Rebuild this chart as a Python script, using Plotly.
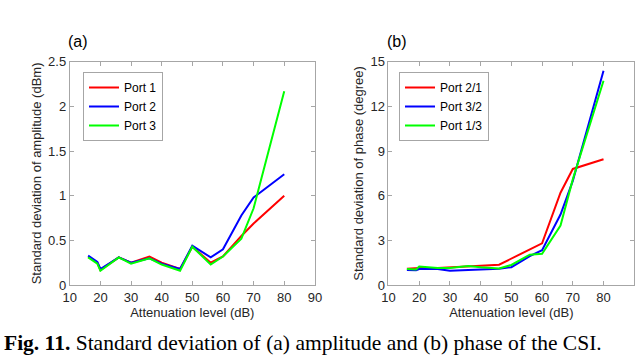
import plotly.graph_objects as go

atten = [16, 19, 20, 26, 30, 36, 40, 46, 50, 56, 60, 66, 70, 80]

amp_port1 = [0.32, 0.25, 0.17, 0.31, 0.25, 0.32, 0.25, 0.18, 0.43, 0.25, 0.32, 0.55, 0.69, 1.00]
amp_port2 = [0.33, 0.26, 0.18, 0.31, 0.25, 0.30, 0.24, 0.18, 0.44, 0.31, 0.40, 0.78, 0.98, 1.24]
amp_port3 = [0.31, 0.24, 0.16, 0.31, 0.24, 0.30, 0.23, 0.16, 0.43, 0.23, 0.32, 0.52, 0.86, 2.17]

ph_21 = [1.10, 1.15, 1.15, 1.15, 1.20, 1.30, 1.30, 1.37, 1.78, 2.39, 2.80, 6.20, 7.80, 8.45]
ph_32 = [1.02, 1.00, 1.08, 1.08, 0.96, 1.00, 1.05, 1.10, 1.20, 1.95, 2.34, 4.74, 7.00, 14.39]
ph_13 = [1.08, 1.05, 1.25, 1.15, 1.15, 1.28, 1.20, 1.12, 1.35, 2.04, 2.10, 4.00, 7.10, 13.72]

x_ticks = [10, 20, 30, 40, 50, 60, 70, 80, 90]
amp_ticks = [0, 0.5, 1, 1.5, 2, 2.5]
amp_ticklabels = ["0", "0.5", "1", "1.5", "2", "2.5"]
ph_ticks = [0, 3, 6, 9, 12, 15]

RED, BLUE, GREEN = "#ff0000", "#0000ff", "#00ff00"
FONT = "Liberation Sans"

fig = go.Figure()
for name, ys, c in [("Port 1", amp_port1, RED), ("Port 2", amp_port2, BLUE), ("Port 3", amp_port3, GREEN)]:
    fig.add_trace(go.Scatter(x=atten, y=ys, name=name, mode="lines",
                             line=dict(color=c, width=2), xaxis="x", yaxis="y", legend="legend"))
for name, ys, c in [("Port 2/1", ph_21, RED), ("Port 3/2", ph_32, BLUE), ("Port 1/3", ph_13, GREEN)]:
    fig.add_trace(go.Scatter(x=atten, y=ys, name=name, mode="lines",
                             line=dict(color=c, width=2), xaxis="x2", yaxis="y2", legend="legend2"))

axis_common = dict(showgrid=False, zeroline=False, showline=True, mirror="ticks", automargin=False,
                   linecolor="#a6a6a6", linewidth=1, ticks="inside", ticklen=4,
                   tickcolor="#a6a6a6", tickfont=dict(family=FONT, size=13, color="#262626"),
                   title_font=dict(family=FONT, size=13, color="#262626"))

fig.update_layout(
    width=640, height=355, margin=dict(l=0, r=0, t=0, b=0, autoexpand=False),
    paper_bgcolor="white", plot_bgcolor="white",
    showlegend=True,
    xaxis=dict(domain=[0.109, 0.492], range=[10, 90], tickvals=x_ticks,
               title=dict(text="Attenuation level (dB)", standoff=4), anchor="y", **axis_common),
    yaxis=dict(domain=[0.197, 0.826], range=[0, 2.5], tickvals=amp_ticks, ticktext=amp_ticklabels,
               title=dict(text="Standard deviation of amplitude (dBm)", standoff=3), anchor="x", **axis_common),
    xaxis2=dict(domain=[0.607, 0.991], range=[10, 90], tickvals=x_ticks,
                title=dict(text="Attenuation level (dB)", standoff=4), anchor="y2", **axis_common),
    yaxis2=dict(domain=[0.197, 0.826], range=[0, 15], tickvals=ph_ticks,
                title=dict(text="Standard deviation of phase (degree)", standoff=3), anchor="x2", **axis_common),
    legend=dict(x=83 / 640, y=1 - 72 / 355, xanchor="left", yanchor="top", bgcolor="white",
                bordercolor="#a6a6a6", borderwidth=1, font=dict(family=FONT, size=12, color="#000000"),
                tracegroupgap=0, itemwidth=30),
    legend2=dict(x=399 / 640, y=1 - 72 / 355, xanchor="left", yanchor="top", bgcolor="white",
                 bordercolor="#a6a6a6", borderwidth=1, font=dict(family=FONT, size=12, color="#000000"),
                 tracegroupgap=0, itemwidth=30),
    annotations=[
        dict(text="(a)", x=78 / 640, y=1 - 42 / 355, xref="paper", yref="paper", showarrow=False,
             font=dict(family=FONT, size=16, color="#000000"), xanchor="center", yanchor="middle"),
        dict(text="(b)", x=397 / 640, y=1 - 42 / 355, xref="paper", yref="paper", showarrow=False,
             font=dict(family=FONT, size=16, color="#000000"), xanchor="center", yanchor="middle"),
        dict(text="<b>Fig. 11.</b> Standard deviation of (a) amplitude and (b) phase of the CSI.",
             x=2 / 640, y=1 - 343 / 355, xref="paper", yref="paper", showarrow=False,
             font=dict(family="Liberation Serif", size=21.5, color="#000000"), xanchor="left", yanchor="middle"),
    ],
)

fig.write_html("out.html", config={"displayModeBar": False},
               post_script="document.body.style.margin='0px';")
